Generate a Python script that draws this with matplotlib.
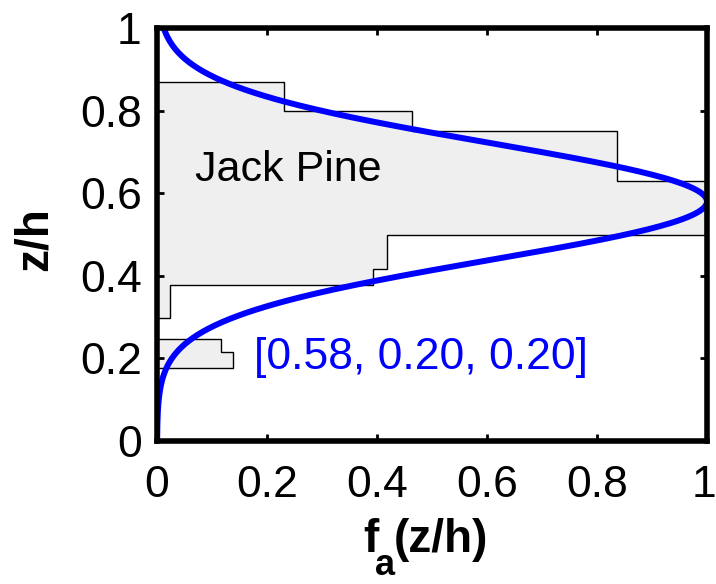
import numpy as np
import matplotlib
matplotlib.use('Agg')
import matplotlib.pyplot as plt
import matplotlib.transforms as mtransforms

plt.rcParams['font.family'] = ['Liberation Sans', 'DejaVu Sans']

# measured leaf area profile (bin edges in z/h, normalised density)
z_edges = [0.0, 0.177, 0.215, 0.247, 0.298, 0.378, 0.416, 0.499, 0.630, 0.751, 0.799, 0.869, 1.0]
fa_meas = [0.0, 0.138, 0.116, 0.0, 0.024, 0.393, 0.418, 0.996, 0.836, 0.464, 0.231, 0.0]

# fitted profile parameters [z_m, sigma_low, sigma_up]
zm, sig_lo, sig_up = 0.58, 0.20, 0.20

z = np.linspace(0, 1, 401)
sig = np.where(z < zm, sig_lo, sig_up)
fa_fit = np.exp(-((z - zm) / sig) ** 2)

W, H = 716, 584
fig = plt.figure(figsize=(W / 100, H / 100), dpi=100)
ax = fig.add_axes([0.2193, 0.2449, 0.7681, 0.7071])

ax.stairs(fa_meas, z_edges, orientation='horizontal', fill=True,
          facecolor='#efefef', edgecolor='none', zorder=1)
ax.stairs(fa_meas, z_edges, orientation='horizontal', baseline=0,
          color='black', lw=1.0, zorder=2)
ax.plot(fa_fit, z, color='#0000ff', lw=4.3, zorder=3, solid_capstyle='butt')

ax.text(0.069, 0.655, 'Jack Pine', fontsize=31, va='center', ha='left', color='black')
ax.text(0.176, 0.203, '[%.2f, %.2f, %.2f]' % (zm, sig_lo, sig_up), fontsize=32,
        va='center', ha='left', color='#0000ff')

ax.set_xlim(0, 1)
ax.set_ylim(0, 1)
ticks = [0, 0.2, 0.4, 0.6, 0.8, 1]
labels = ['0', '0.2', '0.4', '0.6', '0.8', '1']
ax.set_xticks(ticks)
ax.set_xticklabels(labels)
ax.set_yticks(ticks)
ax.set_yticklabels(labels)
ax.tick_params(direction='in', length=5, width=2, labelsize=32,
               top=True, right=True)
ax.tick_params(axis='x', pad=17)
ax.tick_params(axis='y', pad=11)

# nudge the last x tick label so it stays inside the figure
last = ax.get_xticklabels()[-1]
last.set_transform(last.get_transform() +
                   mtransforms.ScaledTranslation(-3 / 100, 0, fig.dpi_scale_trans))

for s in ax.spines.values():
    s.set_linewidth(4)
    s.set_zorder(5)

# x label with a lowered subscript, MATLAB style
fig.text(363 / W, 1 - 552 / H, 'f', fontsize=33, fontweight='bold', va='baseline', ha='left')
fig.text(375 / W, 1 - 583 / H, 'a', fontsize=26, fontweight='bold', va='bottom', ha='left')
fig.text(394 / W, 1 - 552 / H, '(z/h)', fontsize=33, fontweight='bold', va='baseline', ha='left')

ax.set_ylabel('z/h', fontsize=33, fontweight='bold')
ax.yaxis.set_label_coords(-0.183, 0.49)

plt.savefig('out.png', dpi=100)
